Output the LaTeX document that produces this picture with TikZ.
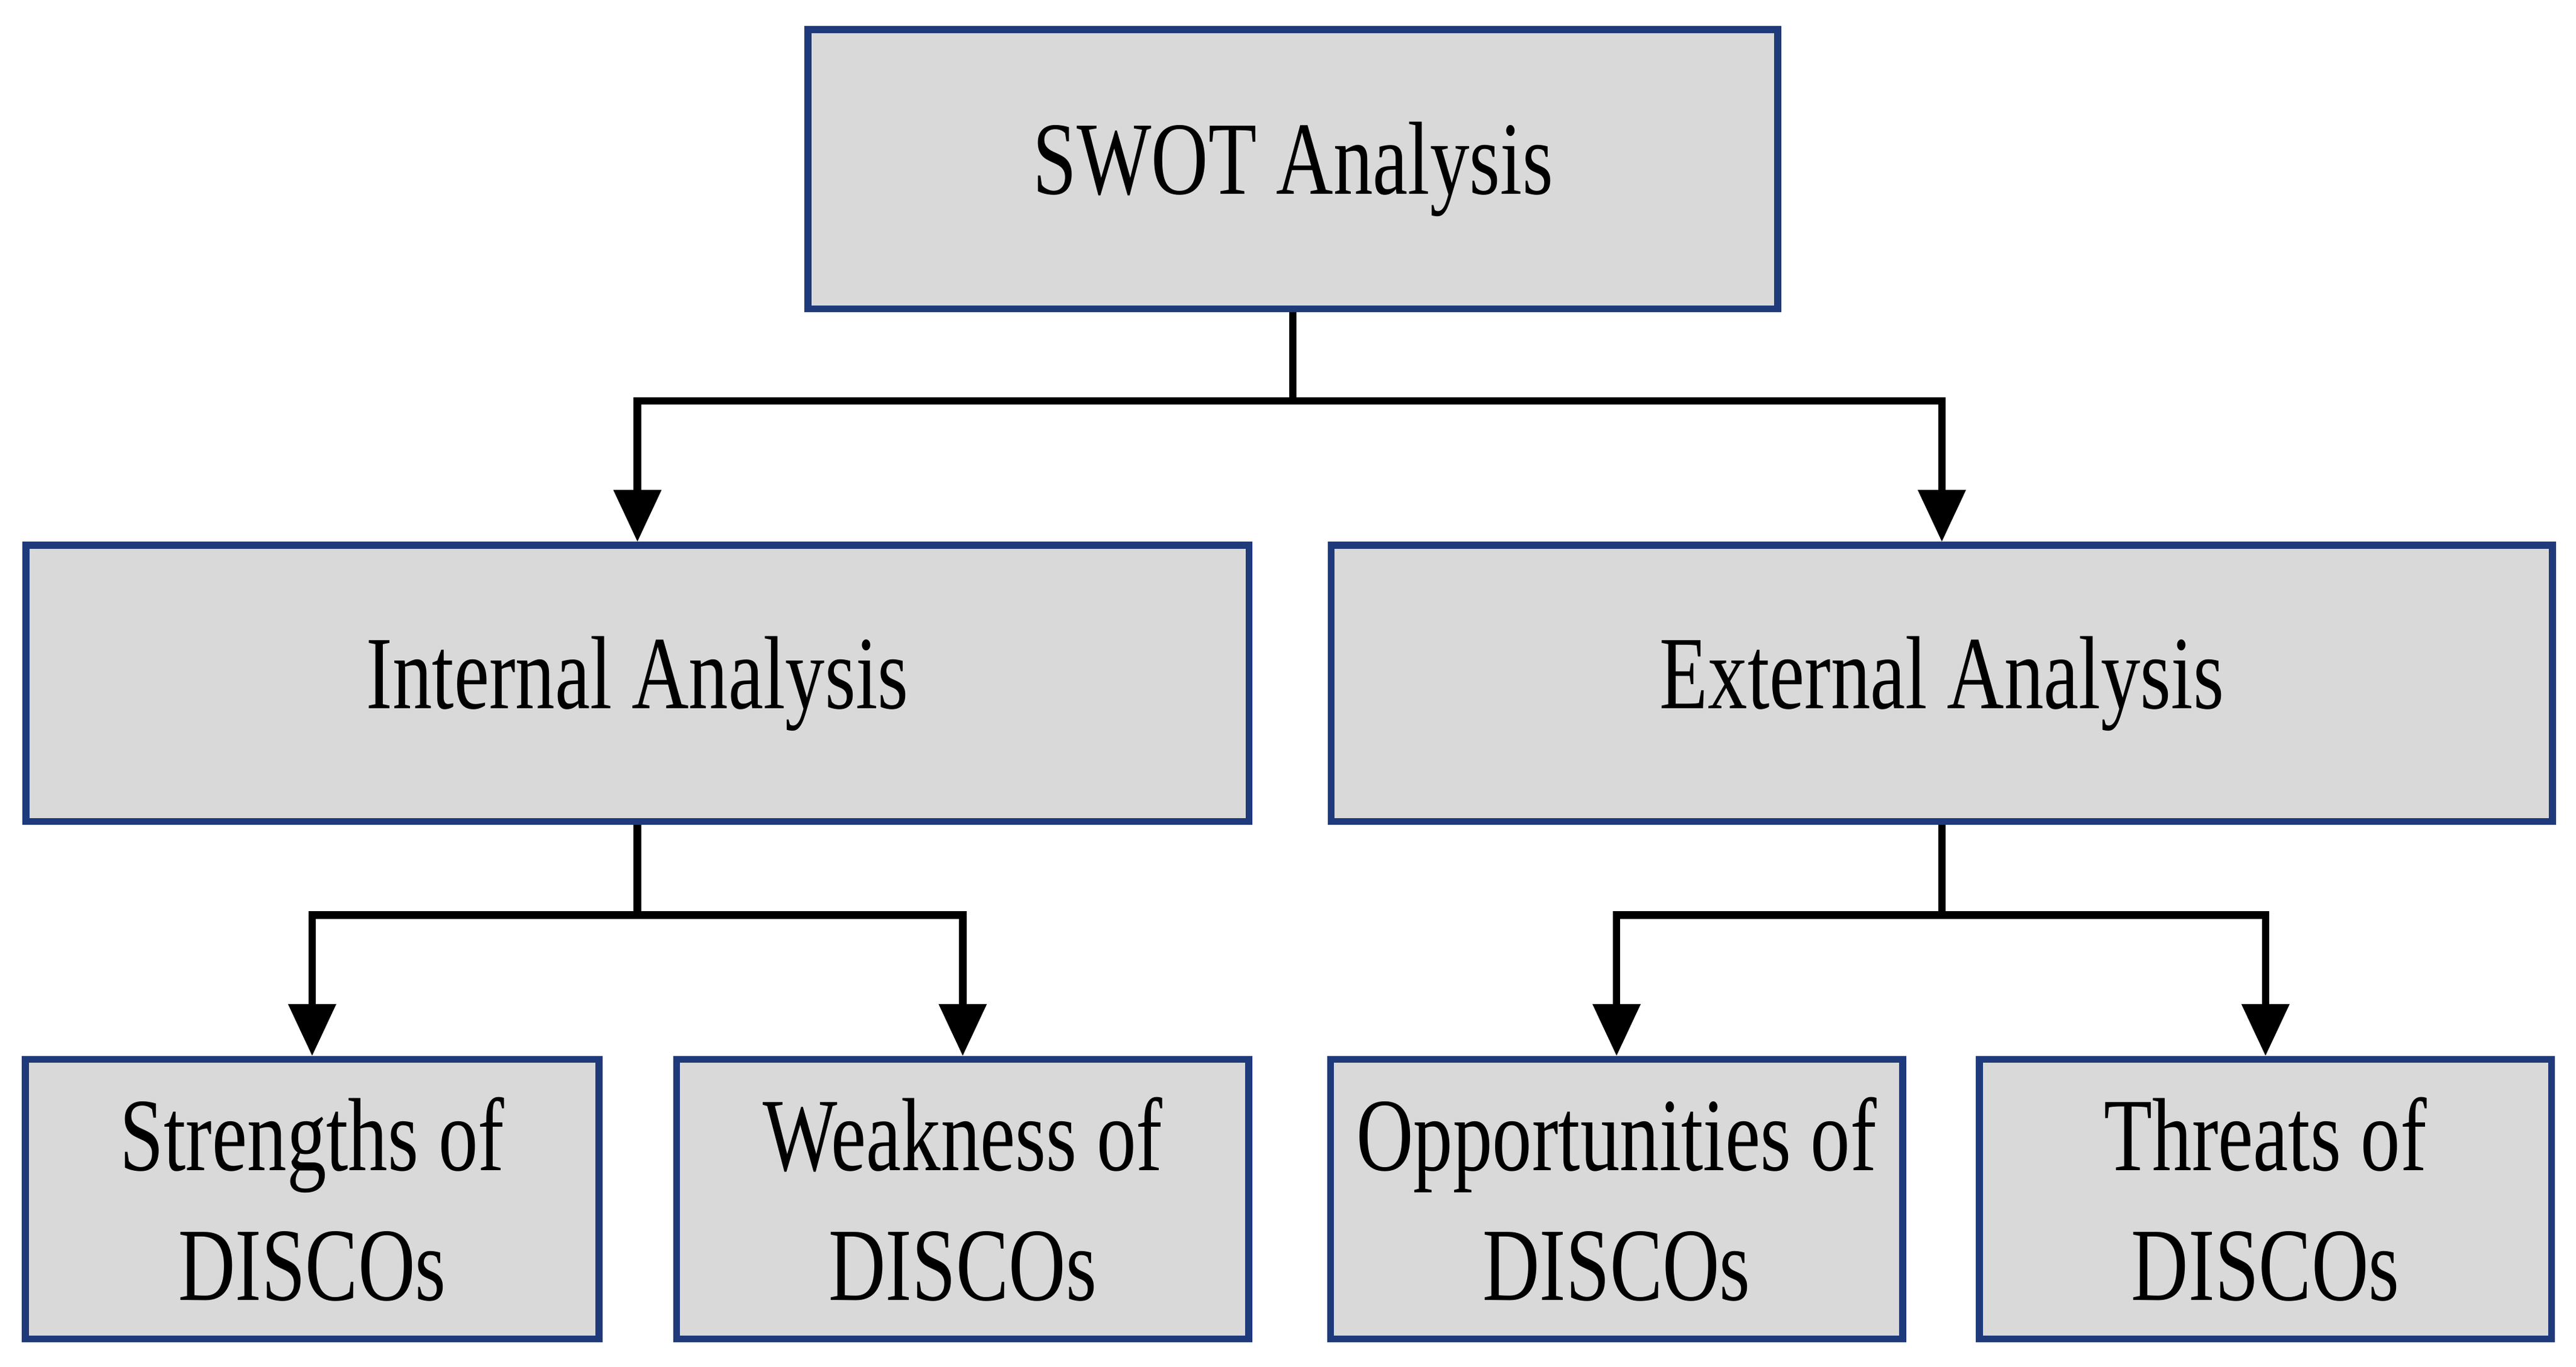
\documentclass[tikz,border=0pt]{standalone}
\usepackage{fontspec}
\setmainfont[FakeStretch=0.76]{Liberation Serif}
\usetikzlibrary{arrows.meta}
\definecolor{boxblue}{RGB}{31,58,122}
\definecolor{boxgray}{RGB}{217,217,217}
\begin{document}
\begin{tikzpicture}[x=0.01cm,y=-0.01cm,
    box/.style={draw=boxblue,line width=1.2pt,fill=boxgray,inner sep=0pt,align=center,font=\fontsize{18}{22.5}\selectfont},
    link/.style={line width=1.3pt,-{Triangle[length=9pt,width=8pt]}}]
    \useasboundingbox (0,0) rectangle (1568,832);

    \node[box,minimum width=5.9cm,minimum height=1.7cm] (swot) at (787,103) {SWOT Analysis};

    \node[box,minimum width=7.44cm,minimum height=1.68cm] (int) at (388,416) {Internal Analysis};
    \node[box,minimum width=7.43cm,minimum height=1.68cm] (ext) at (1182,416) {External Analysis};

    \node[box,minimum width=3.49cm,minimum height=1.7cm] (str) at (190,730) {Strengths of\\DISCOs};
    \node[box,minimum width=3.48cm,minimum height=1.7cm] (wea) at (586,730) {Weakness of\\DISCOs};
    \node[box,minimum width=3.48cm,minimum height=1.7cm] (opp) at (984,730) {Opportunities of\\DISCOs};
    \node[box,minimum width=3.48cm,minimum height=1.7cm] (thr) at (1379,730) {Threats of\\DISCOs};

    \coordinate (j1) at (787,244);
    \coordinate (j2) at (388,557);
    \coordinate (j3) at (1182,557);

    \draw[line width=1.3pt] (swot.south) -- (j1);
    \draw[link] (j1) -| (int.north);
    \draw[link] (j1) -| (ext.north);

    \draw[line width=1.3pt] (int.south) -- (j2);
    \draw[link] (j2) -| (str.north);
    \draw[link] (j2) -| (wea.north);

    \draw[line width=1.3pt] (ext.south) -- (j3);
    \draw[link] (j3) -| (opp.north);
    \draw[link] (j3) -| (thr.north);
\end{tikzpicture}
\end{document}
